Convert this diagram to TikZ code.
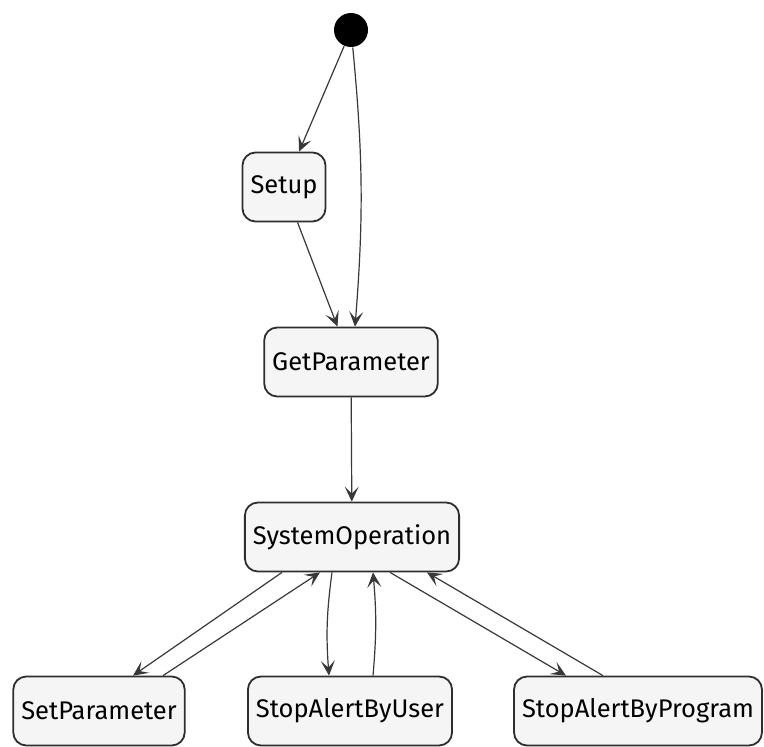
\documentclass[tikz,border=0pt]{standalone}
\usepackage{fontspec}
\setmainfont{Fira Sans}
\usepackage{tikz}
\usetikzlibrary{arrows.meta}

\begin{document}
\begin{tikzpicture}[x=1pt,y=-1pt,
		-{Stealth[length=15pt,width=14pt,inset=7pt]},line width=1.2pt,
		state/.style={rectangle,rounded corners=13pt,draw=black!82,fill=black!4,
			line width=1.8pt,minimum height=69pt,inner xsep=8pt,
			font=\fontsize{25.5}{29}\selectfont},
		initial/.style={circle,fill=black,minimum size=34pt,inner sep=0pt},
		every edge/.style={draw=black!78}]
		\useasboundingbox (0,0) rectangle (764,747);
		\node[initial] (start) at (351,30)  {};
		\node[state]   (setup) at (284,187) {Setup};
		\node[state]   (get)   at (351,362) {GetParameter};
		\node[state]   (sys)   at (352,537) {SystemOperation};
		\node[state]   (setp)  at (99,711)  {SetParameter};
		\node[state]   (user)  at (350,711) {StopAlertByUser};
		\node[state]   (prog)  at (638,711) {StopAlertByProgram};
		\path
			(start) edge (setup)
			(start) edge [bend left=5] ([xshift=4pt]get.north)
			(setup) edge (get)
			(get)   edge (sys)
			([xshift=-70pt]sys.south) edge ([xshift=34pt]setp.north)
			([xshift=64pt]setp.north) edge ([xshift=-32pt]sys.south)
			([xshift=-20pt]sys.south) edge [bend right=6] ([xshift=-21pt]user.north)
			([xshift=23pt]user.north) edge [bend right=5] ([xshift=21pt]sys.south)
			([xshift=38pt]sys.south)  edge ([xshift=-72pt]prog.north)
			([xshift=-35pt]prog.north) edge ([xshift=75pt]sys.south);
	\end{tikzpicture}
\end{document}
